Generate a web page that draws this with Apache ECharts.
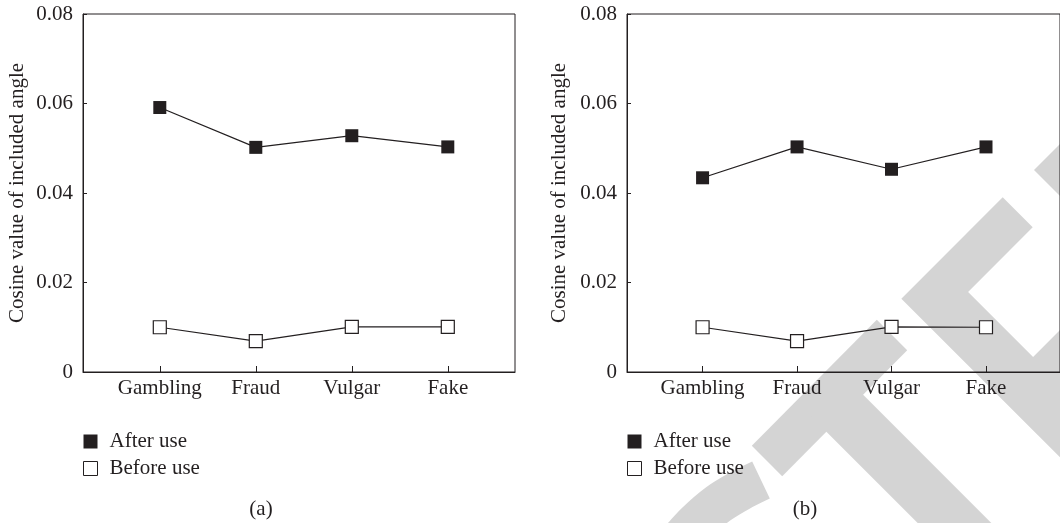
<!DOCTYPE html>
<html><head><meta charset="utf-8">
<script src="https://cdn.jsdelivr.net/npm/echarts@6/dist/echarts.min.js"></script>
<style>html,body{margin:0;padding:0;background:#fff}#c{width:1060px;height:523px}</style>
</head><body><div id="c"></div>
<script>
// ---- data ----
const categories = ['Gambling', 'Fraud', 'Vulgar', 'Fake'];
const afterA  = [0.0591, 0.0502, 0.0528, 0.0503];
const beforeA = [0.0100, 0.0069, 0.0101, 0.0101];
const afterB  = [0.0434, 0.0503, 0.0453, 0.0503];
const beforeB = [0.0100, 0.0069, 0.0101, 0.0100];
const yTicks = [0, 0.02, 0.04, 0.06, 0.08];
const seriesNames = ['After use', 'Before use'];
const panelLabels = ['(a)', '(b)'];
const yName = 'Cosine value of included angle';

// ---- style ----
const INK = '#231f20';
const FONT = '"Liberation Serif", "DejaVu Serif", serif';
const FS = 21;
const WM = '#d4d4d4';

const panels = [
  { left: 83, width: 432, nameGap: 55, after: afterA, before: beforeA, cap: 261 },
  { left: 627, width: 440, nameGap: 57, after: afterB, before: beforeB, cap: 805 }
];
const unit = 96, xMin = -0.8;
const idx = categories.map((c, i) => i);

const option = {
  animation: false,
  backgroundColor: '#fff',
  grid: panels.map(p => ({
    left: p.left, top: 14, width: p.width, height: 358,
    show: true, borderColor: INK, borderWidth: 1, backgroundColor: 'transparent'
  })),
  xAxis: panels.map((p, i) => ({
    gridIndex: i, type: 'value', min: xMin, max: xMin + p.width / unit,
    axisLine: { show: true, onZero: false, lineStyle: { color: INK, width: 1 } },
    axisTick: { show: true, inside: true, length: 6, customValues: idx, lineStyle: { color: INK } },
    axisLabel: { customValues: idx, formatter: v => categories[Math.round(v)], fontSize: FS, fontFamily: FONT, color: INK, margin: 6 },
    splitLine: { show: false }
  })),
  yAxis: panels.map((p, i) => ({
    gridIndex: i, type: 'value', min: yTicks[0], max: yTicks[yTicks.length - 1], interval: yTicks[1] - yTicks[0],
    axisLine: { show: true, onZero: false, lineStyle: { color: INK, width: 1 } },
    axisTick: { show: true, inside: true, length: 4, lineStyle: { color: INK } },
    axisLabel: { formatter: v => v === 0 ? '0' : v.toFixed(2), fontSize: FS, fontFamily: FONT, color: INK, margin: 10 },
    splitLine: { show: false },
    name: yName, nameLocation: 'middle', nameGap: p.nameGap, nameRotate: 90,
    nameTextStyle: { fontSize: FS, fontFamily: FONT, color: INK }
  })),
  legend: panels.map(p => ({
    left: p.left, top: 431, padding: 0, orient: 'vertical', icon: 'rect', itemWidth: 14, itemHeight: 14, itemGap: 6,
    selectedMode: false,
    textStyle: { fontSize: FS, fontFamily: FONT, color: INK, padding: [0, 0, 0, 7], lineHeight: 21 },
    data: [
      { name: seriesNames[0], itemStyle: { color: INK, borderWidth: 0 } },
      { name: seriesNames[1], itemStyle: { color: '#fff', borderColor: INK, borderWidth: 1 } }
    ]
  })),
  title: panels.map((p, i) => ({
    text: panelLabels[i], left: p.cap, top: 499, padding: 0, textAlign: 'center',
    textStyle: { fontSize: FS, fontFamily: FONT, color: INK, fontWeight: 'normal' }
  })),
  graphic: {
    elements: [
      { type: 'polygon', z: -5, shape: { points: [[876.8,319.8],[907.2,350.2],[782.2,476.2],[751.8,445.8]] }, style: { fill: WM } },
      { type: 'polygon', z: -5, shape: { points: [[847.9,379.6],[1018.4,550.1],[981.6,586.9],[811.1,416.4]] }, style: { fill: WM } },
      { type: 'polygon', z: -5, shape: { points: [[1002.7,197.3],[1032.7,227.3],[968.1,291.9],[1033.1,356.9],[1110,280],[1200,370],[1200,597.3],[901.35,298.65]] }, style: { fill: WM } },
      { type: 'polygon', z: -5, shape: { points: [[1034,170],[1071,133],[1200,262],[1163,299]] }, style: { fill: WM } },
      { type: 'polyline', z: -5, shape: { points: [[761,480],[740,490.5],[718,504],[696,523],[676,545]], smooth: 0.3 }, style: { stroke: WM, lineWidth: 41, fill: null, lineCap: 'butt' } }
    ]
  },
  series: []
};

panels.forEach((p, i) => {
  option.series.push({
    name: seriesNames[0], type: 'line', xAxisIndex: i, yAxisIndex: i,
    data: p.after.map((v, k) => [k, v]),
    symbol: 'rect', symbolSize: 13,
    lineStyle: { color: INK, width: 1.2 },
    itemStyle: { color: INK, borderWidth: 0 }
  });
  option.series.push({
    name: seriesNames[1], type: 'line', xAxisIndex: i, yAxisIndex: i,
    data: p.before.map((v, k) => [k, v]),
    symbol: 'rect', symbolSize: 13,
    lineStyle: { color: INK, width: 1.2 },
    itemStyle: { color: '#fff', borderColor: INK, borderWidth: 1.2 }
  });
});

const chart = echarts.init(document.getElementById('c'), null, { renderer: 'canvas' });
chart.setOption(option);
</script>
</body></html>
